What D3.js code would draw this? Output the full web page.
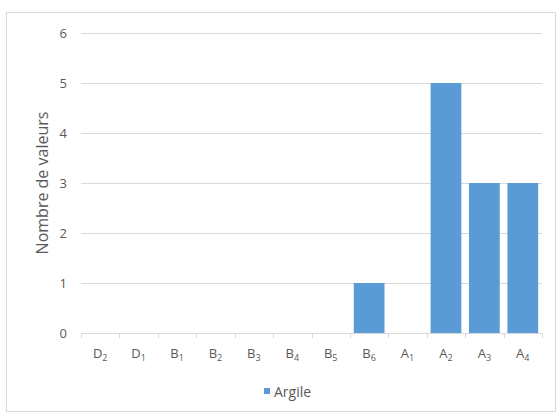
<!DOCTYPE html>
<html><head><meta charset="utf-8">
<script src="https://cdn.jsdelivr.net/npm/d3@7/dist/d3.min.js"></script>
<style>body{margin:0;background:#fff}svg{display:block}text{font-family:"Open Sans",Calibri,sans-serif;fill:#595959}</style>
</head><body>
<script>
const catBase = ["D","D","B","B","B","B","B","B","A","A","A","A"];
const catSub  = ["2","1","1","2","3","4","5","6","1","2","3","4"];
const values  = [0,0,0,0,0,0,0,1,0,5,3,3];
const yTicks  = [0,1,2,3,4,5,6];
const seriesName = "Argile";
const yTitle = "Nombre de valeurs";

(function(){
const W=559,H=414;
const svg=d3.select("body").append("svg").attr("width",W).attr("height",H);
svg.append("rect").attr("x",6.5).attr("y",12.5).attr("width",549).attr("height",399)
  .attr("fill","#fff").attr("stroke","#d9d9d9");
const pl=81,pr=542,pt=33,pb=333;
const cats=catBase.map((d,i)=>i);
const x=d3.scaleBand().domain(cats).range([pl,pr]).paddingInner(0.2).paddingOuter(0.1);
const y=d3.scaleLinear().domain([0,6]).range([pb,pt]);

svg.append("g").selectAll("line").data(yTicks.filter(d=>d>0)).join("line")
  .attr("x1",pl).attr("x2",pr).attr("y1",d=>y(d)+0.5).attr("y2",d=>y(d)+0.5)
  .attr("stroke","#d9d9d9");
svg.append("g").selectAll("text").data(yTicks).join("text")
  .attr("x",67).attr("y",d=>y(d)+5).attr("text-anchor","end").attr("font-size",13).text(d=>d);

svg.append("g").selectAll("rect").data(values).join("rect")
  .attr("x",(d,i)=>x(i)).attr("width",x.bandwidth())
  .attr("y",d=>y(d)).attr("height",d=>pb-y(d))
  .attr("fill","#5b9bd5");

svg.append("line").attr("x1",pl).attr("x2",pr).attr("y1",pb+0.5).attr("y2",pb+0.5).attr("stroke","#d9d9d9");
const step=(pr-pl)/cats.length;
svg.append("g").selectAll("line").data(d3.range(cats.length+1)).join("line")
  .attr("x1",d=>Math.round(pl+d*step)+0.5).attr("x2",d=>Math.round(pl+d*step)+0.5)
  .attr("y1",pb).attr("y2",pb+5).attr("stroke","#d9d9d9");
const lab=svg.append("g").selectAll("text").data(cats).join("text")
  .attr("x",d=>x(d)+x.bandwidth()/2).attr("y",358).attr("text-anchor","middle").attr("font-size",13);
lab.append("tspan").text(d=>catBase[d]);
lab.append("tspan").attr("font-size",9).attr("dy",3).text(d=>catSub[d]);

svg.append("text").attr("transform","translate(48,"+((pt+pb)/2)+") rotate(-90)")
  .attr("text-anchor","middle").attr("font-size",16).text(yTitle);

svg.append("rect").attr("x",264).attr("y",388).attr("width",6).attr("height",6).attr("fill","#5b9bd5");
svg.append("text").attr("x",274).attr("y",397).attr("font-size",14).text(seriesName);
})();
</script>
</body></html>
